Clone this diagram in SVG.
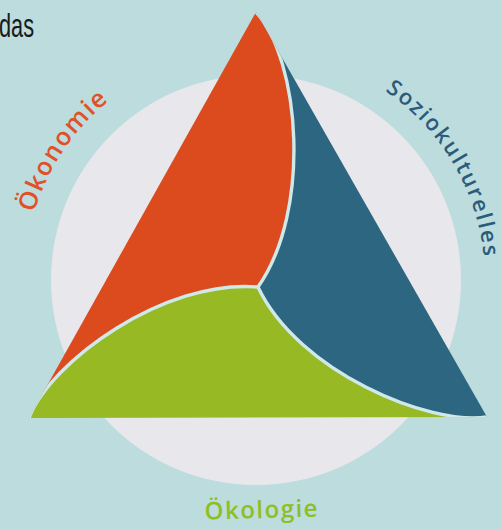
<svg xmlns="http://www.w3.org/2000/svg" width="501" height="529" viewBox="0 0 501 529">
  <defs>
    <style>
      .lbl { font-family: "Open Sans", "Noto Sans", "DejaVu Sans", sans-serif; font-weight: 600; }
      .sep { fill: none; stroke: #cfe8ea; stroke-width: 3.4; stroke-linecap: round; }
    </style>
    <!-- outer triangle used to trim the three sectors -->
    <clipPath id="tri">
      <path d="M256,12 L487,417 L29,418 Z"/>
    </clipPath>
    <!-- baselines for the curved labels, concentric with the disc -->
    <path id="arcTop" d="M24,280 A232,232 0 0 1 488,280"/>
    <path id="arcRight" d="M27,280 A229,229 0 0 1 485,280"/>
  </defs>

  <rect width="501" height="529" fill="#bcdcde"/>
  <circle cx="256" cy="280" r="205" fill="#e8e8ec"/>

  <text x="-1" y="37" font-family="'Liberation Sans Narrow', 'Liberation Sans', Arial, sans-serif" font-size="34" textLength="35" lengthAdjust="spacingAndGlyphs" fill="#1a1a1a">das</text>

  <g id="oekonomie">
    <path clip-path="url(#tri)" fill="#dc4b1e" d="M258,287 C312,210 300,60 256,12 L256,-50 L-50,-50 L-50,418 L29,418 C50,362 164,279 258,287 Z"/>
    <text class="lbl" font-size="25" fill="#e05128" letter-spacing="1.5"><textPath href="#arcTop" startOffset="137" text-anchor="middle">Ökonomie</textPath></text>
  </g>

  <g id="soziokulturelles">
    <path clip-path="url(#tri)" fill="#2c6680" d="M258,287 C312,210 300,60 256,12 L256,-50 L600,-50 L600,417 L487,417 C430,426 298,372 258,287 Z"/>
    <text class="lbl" font-size="22" fill="#2b5b7a" letter-spacing="2"><textPath href="#arcRight" startOffset="597" text-anchor="middle">Soziokulturelles</textPath></text>
  </g>

  <g id="oekologie">
    <path clip-path="url(#tri)" fill="#96b924" d="M258,287 C164,279 50,362 29,418 L-50,418 L-50,600 L487,600 L487,417 C430,426 298,372 258,287 Z"/>
    <text class="lbl" x="262" y="518" text-anchor="middle" font-size="24" letter-spacing="1.5" fill="#8dbf25" transform="rotate(-1.5 262 518)">Ökologie</text>
  </g>

  <!-- thin light dividers between the sectors -->
  <g id="dividers" clip-path="url(#tri)">
    <path class="sep" d="M258,287 C312,210 300,60 256,12"/>
    <path class="sep" d="M258,287 C164,279 50,362 29,418"/>
    <path class="sep" d="M258,287 C298,372 430,426 487,417"/>
  </g>
</svg>
